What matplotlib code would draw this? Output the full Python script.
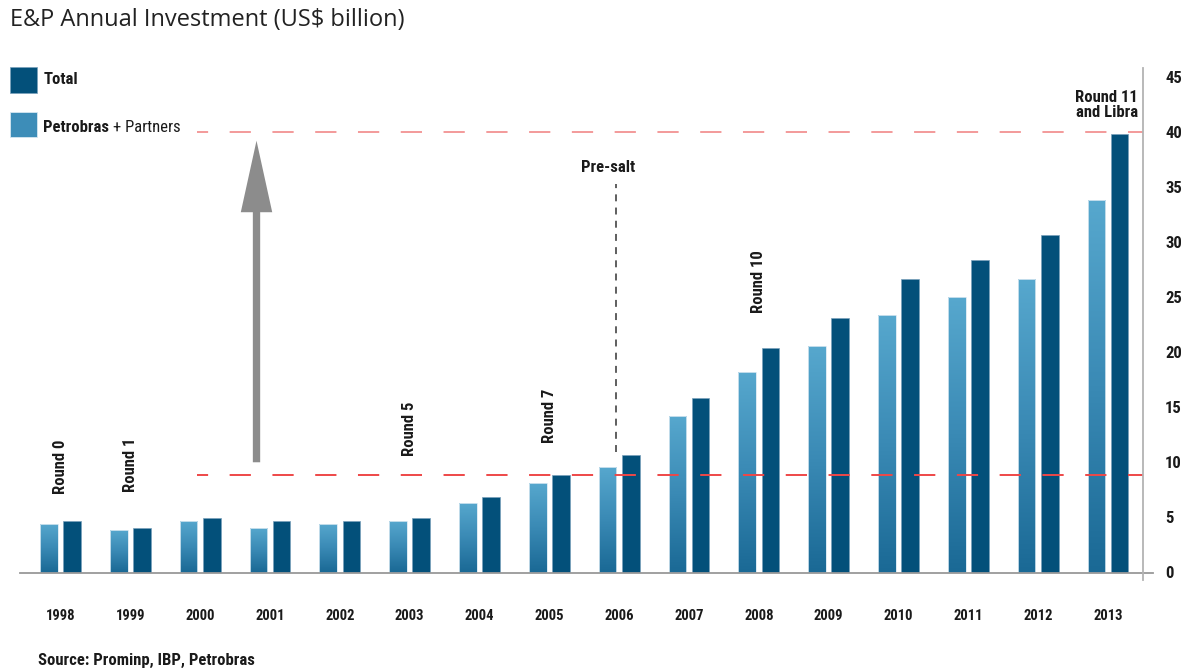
import numpy as np
import matplotlib
matplotlib.use("Agg")
import matplotlib.pyplot as plt
from matplotlib.colors import LinearSegmentedColormap
from matplotlib.patches import Rectangle
from matplotlib.lines import Line2D
from matplotlib import font_manager

# ---------------- data ----------------
years = ["1998", "1999", "2000", "2001", "2002", "2003", "2004", "2005",
         "2006", "2007", "2008", "2009", "2010", "2011", "2012", "2013"]
petrobras_partners = [4.4, 3.85, 4.65, 4.05, 4.4, 4.65, 6.3, 8.1,
                      9.6, 14.2, 18.2, 20.6, 23.4, 25.0, 26.7, 33.9]
total = [4.7, 4.05, 4.95, 4.65, 4.7, 4.95, 6.9, 8.85,
         10.7, 15.9, 20.4, 23.1, 26.7, 28.4, 30.7, 39.9]
y_ticks = [0, 5, 10, 15, 20, 25, 30, 35, 40, 45]
round_labels = ["Round 0", "Round 1", "Round 5", "Round 7", "Round 10"]
round_years = ["1998", "1999", "2003", "2005", "2008"]
round_heights = [9.65, 9.75, 13.05, 14.2, 26.4]
ref_high = 40.05
ref_low = 8.9
presalt_year = "2006"

# ---------------- fonts ----------------
avail = {f.name for f in font_manager.fontManager.ttflist}
narrow = None
for cand in ["Liberation Sans Narrow", "Roboto Condensed", "Open Sans Condensed", "DejaVu Sans Condensed"]:
    if cand in avail:
        narrow = cand
        break
NF = [narrow, "DejaVu Sans"] if narrow else ["DejaVu Sans"]
plt.rcParams["lines.scale_dashes"] = False

W, H = 1185, 670
fig = plt.figure(figsize=(W / 100, H / 100), dpi=100)

# axes placement (pixel based)
left_px, right_px = 20, 1143
base_px, top_px = 572.5, 68
ax = fig.add_axes([left_px / W, (H - base_px) / H, (right_px - left_px) / W, (base_px - top_px) / H])

n = len(years)
x = np.arange(n)
bw = 0.253
off = 0.167

cmap = LinearSegmentedColormap.from_list("pb", ["#1a6995", "#3a8ab5", "#57a8ce"])
grad = np.linspace(0, 1, 256).reshape(-1, 1)

light = ax.bar(x - off, petrobras_partners, width=bw, facecolor="#3d8db8",
               edgecolor="none", linewidth=0, zorder=2)
for p in light:
    x0, w, h = p.get_x(), p.get_width(), p.get_height()
    im = ax.imshow(grad, extent=[x0, x0 + w, 0, h], aspect="auto", cmap=cmap,
                   origin="lower", zorder=2.5, interpolation="nearest")
    im.set_clip_path(p)
ax.bar(x - off, petrobras_partners, width=bw, facecolor="none",
       edgecolor="#d6e7f1", linewidth=0.6, zorder=3)
ax.bar(x + off, total, width=bw, color="#03507a", edgecolor="#7aa0bb",
       linewidth=0.5, zorder=3)

xmin = -(60.5 - left_px) / 69.83
xmax = (n - 1) + (right_px - 1108) / 69.83
ymax = 45.86
ax.set_xlim(xmin, xmax)
ax.set_ylim(0, ymax)

# reference dashed lines
x_start = (196.7 - 60.5) / 69.83
for yv, col in [(ref_high, "#f39a9a"), (ref_low, "#ee4848")]:
    ax.plot([x_start, xmax], [yv, yv], color=col, lw=1.4,
            linestyle=(7.3, (15.3, 15.5)), zorder=4, solid_capstyle="butt")

# spines
for s in ax.spines.values():
    s.set_visible(False)
ax.add_line(Line2D([0, 1.009], [0, 0], transform=ax.transAxes, color="#999999",
                   lw=1.3, clip_on=False, zorder=5))
ax.add_line(Line2D([1, 1], [-0.015, 1], transform=ax.transAxes, color="#b3b3b3",
                   lw=1.3, clip_on=False, zorder=5))

ax.set_xticks(x)
ax.set_xticklabels(years, family=NF, fontweight="bold", fontsize=10.5, color="#1a1a1a")
ax.tick_params(axis="x", length=0, pad=26)
ax.yaxis.tick_right()
ax.set_yticks(y_ticks)
ax.set_yticklabels([str(v) for v in y_ticks], family=NF, fontweight="bold",
                   fontsize=12, color="#1a1a1a")
ax.tick_params(axis="y", length=0, pad=16)

# round annotations
for lab, yr, hv in zip(round_labels, round_years, round_heights):
    xi = years.index(yr)
    ax.text(xi, hv, lab, rotation=90, ha="center", va="center", family=NF,
            fontweight="bold", fontsize=12, color="#1a1a1a", zorder=6)

ax.text(n - 1 - 0.02, 42.5, "Round 11\nand Libra", ha="center", va="center",
        family=NF, fontweight="bold", fontsize=12, color="#1a1a1a",
        linespacing=0.95, zorder=6)

# pre-salt
xp = years.index(presalt_year) - 0.045
ax.plot([xp, xp], [10.93, 35.3], color="#333333", lw=1.1,
        linestyle=(0, (5, 4.5)), zorder=4)
ax.text(years.index(presalt_year) - 0.16, 36.8, "Pre-salt", ha="center", va="center",
        family=NF, fontweight="bold", fontsize=12, color="#1a1a1a")

# arrow
xa = (256.5 - 60.5) / 69.83
ax.arrow(xa, 10.02, 0, 39.25 - 10.02, width=0.105, head_width=0.45,
         head_length=6.5, length_includes_head=True, color="#8c8c8c",
         linewidth=0, zorder=4)

# title
fig.text(10 / W, 1 - 20 / H, "E&P Annual Investment (US\\$ billion)", ha="left",
         va="center", family=["Open Sans", "DejaVu Sans"], fontsize=17, color="#222222")

# legend
fig.patches.append(Rectangle((10 / W, 1 - 92.7 / H), 26.7 / W, 26 / H,
                             transform=fig.transFigure, facecolor="#03507a",
                             edgecolor="#7aa0bb", lw=0.5))
fig.patches.append(Rectangle((10 / W, 1 - 137.3 / H), 26.7 / W, 25.6 / H,
                             transform=fig.transFigure, facecolor="#3d8db8",
                             edgecolor="#d6e7f1", lw=0.6))
fig.text(43.3 / W, 1 - 80 / H, "Total", ha="left", va="center", family=NF,
         fontweight="bold", fontsize=12, color="#1a1a1a")
t1 = fig.text(43.3 / W, 1 - 127 / H, "Petrobras", ha="left", va="center", family=NF,
              fontweight="bold", fontsize=12, color="#1a1a1a")
fig.canvas.draw()
bb = t1.get_window_extent()
fig.text(bb.x1 / W + 4 / W, 1 - 127 / H, "+ Partners", ha="left", va="center", family=NF,
         fontweight="normal", fontsize=12, color="#1a1a1a")

# source
fig.text(38 / W, 1 - 660 / H, "Source: Prominp, IBP, Petrobras", ha="left", va="center",
         family=NF, fontweight="bold", fontsize=12, color="#1a1a1a")

fig.savefig("out.png", dpi=100)
